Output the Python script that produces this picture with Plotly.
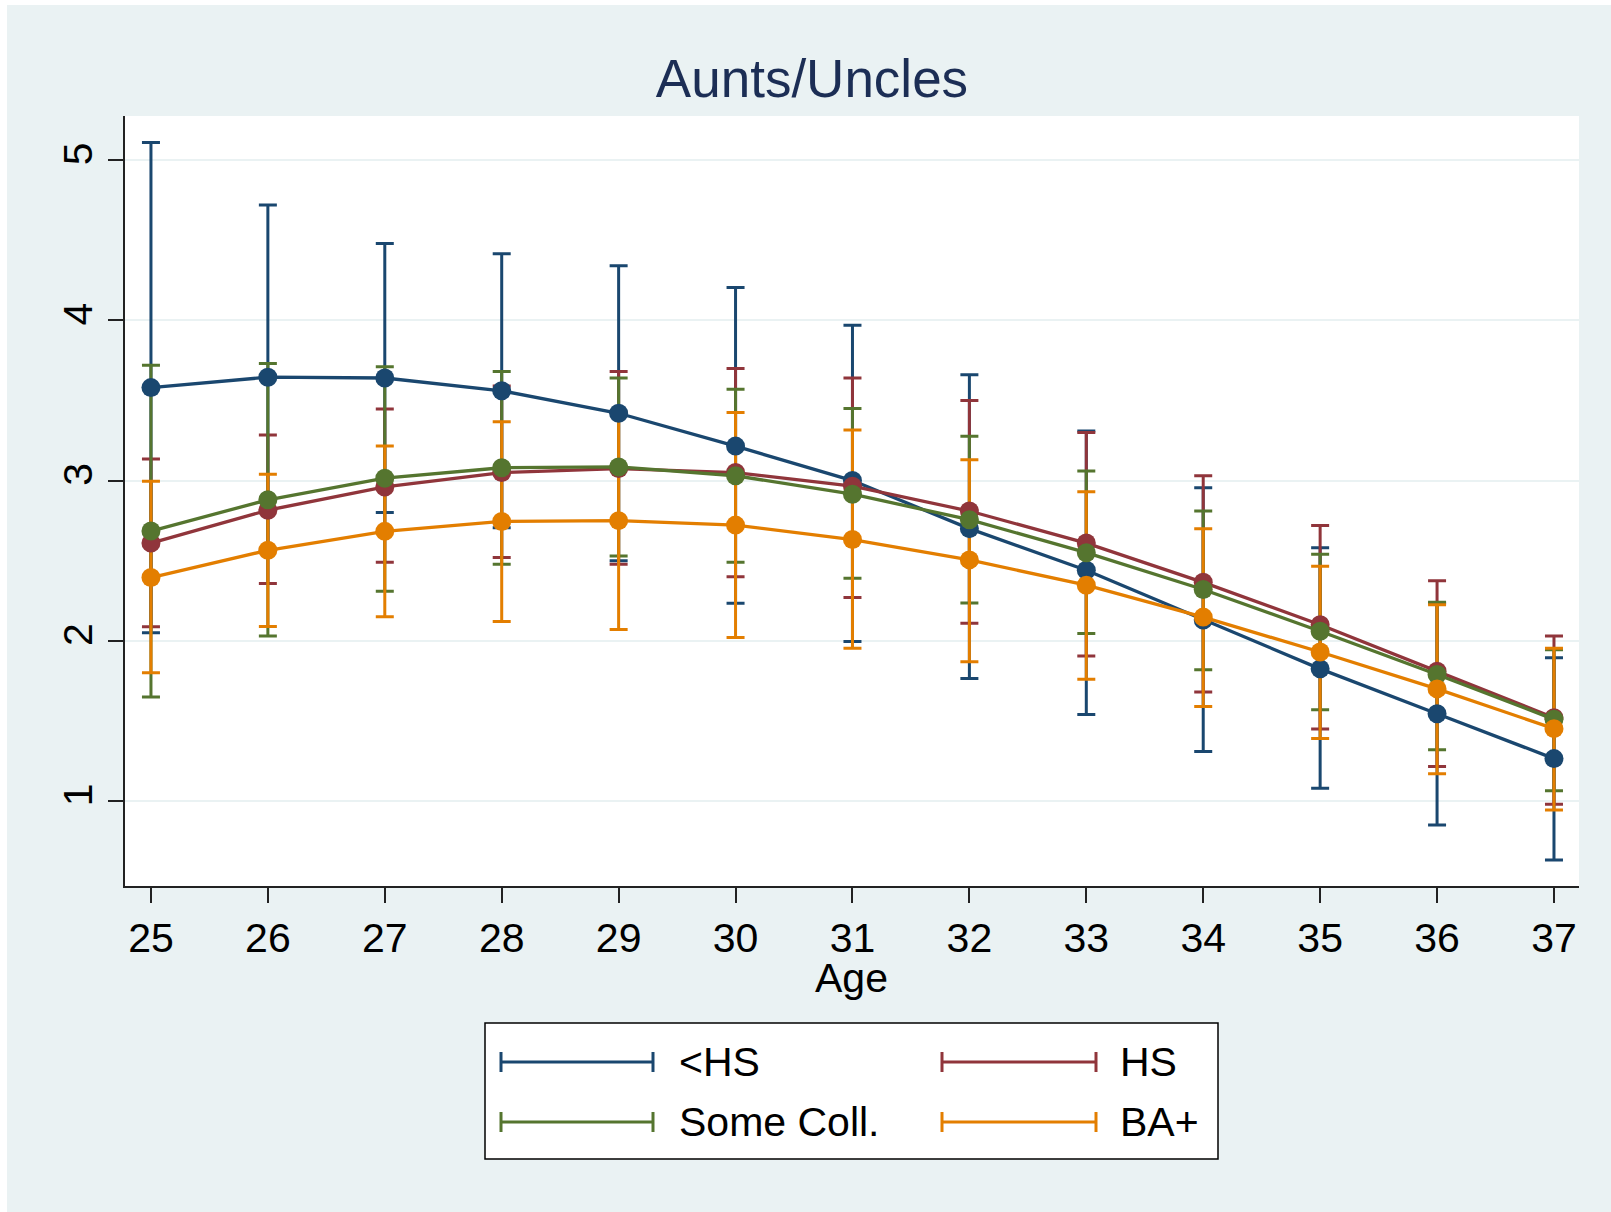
import plotly.graph_objects as go

# Age in years
ages = [25, 26, 27, 28, 29, 30, 31, 32, 33, 34, 35, 36, 37]

# Mean number of aunts/uncles with 95% confidence bounds, by education group
lths_mean = [3.58, 3.645, 3.64, 3.56, 3.42, 3.215, 3.00, 2.70, 2.44, 2.13, 1.825, 1.545, 1.265]
lths_hi = [5.11, 4.72, 4.48, 4.415, 4.34, 4.205, 3.97, 3.66, 3.31, 2.955, 2.58, 2.235, 1.895]
lths_lo = [2.05, 2.57, 2.80, 2.705, 2.50, 2.235, 1.995, 1.765, 1.54, 1.31, 1.08, 0.85, 0.633]

hs_mean = [2.61, 2.815, 2.96, 3.05, 3.075, 3.05, 2.965, 2.81, 2.61, 2.365, 2.10, 1.81, 1.52]
hs_hi = [3.135, 3.285, 3.447, 3.59, 3.68, 3.70, 3.64, 3.50, 3.30, 3.03, 2.72, 2.375, 2.03]
hs_lo = [2.088, 2.358, 2.49, 2.52, 2.478, 2.40, 2.27, 2.11, 1.905, 1.68, 1.45, 1.216, 0.98]

sc_mean = [2.685, 2.88, 3.015, 3.08, 3.085, 3.03, 2.915, 2.756, 2.55, 2.32, 2.06, 1.79, 1.51]
sc_hi = [3.72, 3.73, 3.71, 3.68, 3.64, 3.57, 3.45, 3.276, 3.06, 2.81, 2.54, 2.24, 1.945]
sc_lo = [1.65, 2.03, 2.31, 2.478, 2.53, 2.49, 2.39, 2.236, 2.045, 1.82, 1.57, 1.32, 1.065]

ba_mean = [2.395, 2.565, 2.683, 2.745, 2.75, 2.722, 2.632, 2.505, 2.347, 2.148, 1.93, 1.70, 1.452]
ba_hi = [2.995, 3.04, 3.216, 3.367, 3.425, 3.425, 3.316, 3.13, 2.93, 2.70, 2.466, 2.225, 1.954]
ba_lo = [1.80, 2.09, 2.15, 2.12, 2.07, 2.02, 1.954, 1.87, 1.76, 1.59, 1.39, 1.17, 0.944]

group_names = ["<HS", "HS", "Some Coll.", "BA+"]
group_colors = ["#1A476F", "#90353B", "#55752F", "#E37E00"]
y_ticks = [1, 2, 3, 4, 5]

groups = [
    (lths_mean, lths_lo, lths_hi),
    (hs_mean, hs_lo, hs_hi),
    (sc_mean, sc_lo, sc_hi),
    (ba_mean, ba_lo, ba_hi),
]

FONT = "Liberation Sans, Arial, Helvetica, sans-serif"
BG = "#EAF2F3"

W, H = 1611, 1212
L, R, T, B = 125, 1579, 116, 886


def px2x(px):
    return (px - L) / (R - L)


def py2y(py):
    return (B - py) / (B - T)


fig = go.Figure()

# confidence-interval caps first, so every connected line sits on top
for (m, lo, hi), name, col in zip(groups, group_names, group_colors):
    fig.add_trace(go.Scatter(
        x=ages, y=m, mode="markers", showlegend=False, hoverinfo="skip",
        marker=dict(size=1, color=col, opacity=0),
        error_y=dict(type="data", symmetric=False,
                     array=[h - v for h, v in zip(hi, m)],
                     arrayminus=[v - l for v, l in zip(m, lo)],
                     color=col, thickness=3, width=9),
    ))

for (m, lo, hi), name, col in zip(groups, group_names, group_colors):
    fig.add_trace(go.Scatter(
        x=ages, y=m, mode="lines+markers", name=name, showlegend=False,
        line=dict(color=col, width=3.3),
        marker=dict(color=col, size=19),
    ))

shapes = [
    # white margins around the graph region
    dict(type="rect", xref="paper", yref="paper", x0=px2x(-5), x1=px2x(W + 5),
         y0=py2y(5), y1=py2y(-5), fillcolor="white", line=dict(width=0), layer="above"),
    dict(type="rect", xref="paper", yref="paper", x0=px2x(-5), x1=px2x(7),
         y0=py2y(H + 5), y1=py2y(-5), fillcolor="white", line=dict(width=0), layer="above"),
    # legend box
    dict(type="rect", xref="paper", yref="paper", x0=px2x(485), x1=px2x(1218),
         y0=py2y(1159), y1=py2y(1023), fillcolor="white",
         line=dict(color="black", width=1.5), layer="above"),
]

annotations = [
    # x-axis title
    dict(text="Age", xref="paper", yref="paper", x=px2x(851), y=py2y(978),
         xanchor="center", yanchor="middle", showarrow=False, borderpad=0,
         font=dict(family=FONT, size=41, color="black")),
]
legend_slots = [(501, 653, 677, 1062), (942, 1096, 1118, 1062),
                (501, 653, 677, 1122), (942, 1096, 1118, 1122)]
for (x0, x1, tx, yc), name, col in zip(legend_slots, group_names, group_colors):
    shapes.append(dict(type="line", xref="paper", yref="paper",
                       x0=px2x(x0), x1=px2x(x1), y0=py2y(yc), y1=py2y(yc),
                       line=dict(color=col, width=3), layer="above"))
    for xc in (x0, x1):
        shapes.append(dict(type="line", xref="paper", yref="paper",
                           x0=px2x(xc), x1=px2x(xc), y0=py2y(yc - 10), y1=py2y(yc + 10),
                           line=dict(color=col, width=3), layer="above"))
    annotations.append(dict(text=name, xref="paper", yref="paper",
                            x=px2x(tx), y=py2y(yc), xanchor="left", yanchor="middle",
                            showarrow=False, font=dict(family=FONT, size=41, color="black")))

fig.update_layout(
    width=W, height=H, autosize=False,
    margin=dict(l=L, r=W - R, t=T, b=H - B, pad=0),
    paper_bgcolor=BG, plot_bgcolor="white",
    title=dict(text="Aunts/Uncles", x=812 / W, xref="container", xanchor="center",
               y=1 - 78 / H, yref="container", yanchor="middle",
               font=dict(family=FONT, size=53, color="#1C2E55")),
    xaxis=dict(range=[24.778, 37.214], tickmode="array", tickvals=ages,
               ticktext=[str(a) for a in ages],
               showgrid=False, zeroline=False, showline=True, linecolor="#222222",
               linewidth=1.5, ticks="outside", ticklen=15, tickwidth=1.5,
               tickcolor="#222222",
               tickfont=dict(family=FONT, size=41, color="black")),
    yaxis=dict(range=[0.470, 5.275], tickmode="array", tickvals=y_ticks,
               ticktext=[str(v) for v in y_ticks], tickangle=-90,
               showgrid=True, gridcolor=BG, gridwidth=2, zeroline=False,
               showline=True, linecolor="#222222", linewidth=1.5,
               ticks="outside", ticklen=15, tickwidth=1.5, tickcolor="#222222",
               tickfont=dict(family=FONT, size=41, color="black")),
    shapes=shapes,
    annotations=annotations,
    showlegend=False,
)

fig.write_html("out.html")
